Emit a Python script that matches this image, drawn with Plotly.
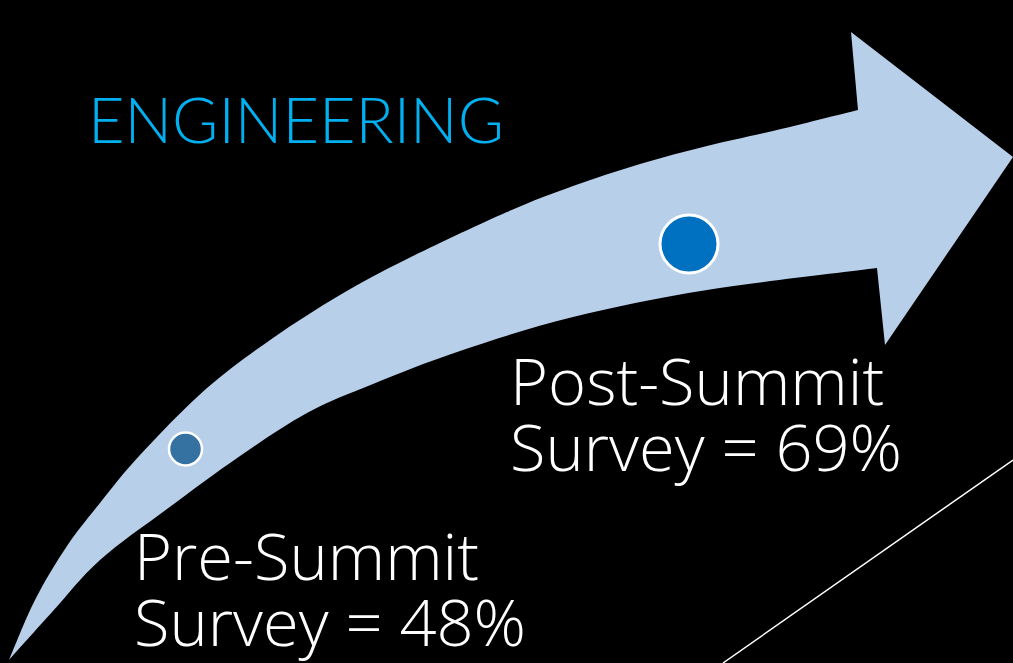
import plotly.graph_objects as go

# ---- data ----
title_text = "ENGINEERING"
survey_names = ["Pre-Summit", "Post-Summit"]
survey_values = [48, 69]

# ---- layout geometry (pixel space of a 1013x663 slide) ----
W, H = 1013, 663
upper_edge = [(9, 660), (35, 600), (67, 546), (100, 503), (140, 455), (207, 388),
              (273, 338), (340, 295), (407, 259), (507, 212), (573, 186), (640, 164),
              (707, 146), (773, 131), (858, 110)]
lower_edge = [(9, 660), (53, 611), (100, 560), (167, 509), (240, 456), (307, 413),
              (373, 384), (460, 351), (573, 317), (707, 290), (877, 268)]
head = [(851, 32), (1013, 157), (885, 345)]

dot_pos = [(185.5, 449), (689, 244)]
dot_size = [33, 58]
dot_color = ["#3572a2", "#0070c0"]
dot_line = [2.5, 3]

label_pos = [(132, 555), (508, 380)]   # left x, middle of first line
line_gap = 66

deco_line_x = [723, 1013]
deco_line_y = [663, 460]


def catmull_path(pts):
    segs = []
    n = len(pts)
    for i in range(n - 1):
        p0 = pts[i - 1] if i > 0 else pts[i]
        p1 = pts[i]
        p2 = pts[i + 1]
        p3 = pts[i + 2] if i + 2 < n else pts[i + 1]
        c1 = (p1[0] + (p2[0] - p0[0]) / 6, p1[1] + (p2[1] - p0[1]) / 6)
        c2 = (p2[0] - (p3[0] - p1[0]) / 6, p2[1] - (p3[1] - p1[1]) / 6)
        segs.append(f"C {c1[0]:.2f},{c1[1]:.2f} {c2[0]:.2f},{c2[1]:.2f} {p2[0]:.2f},{p2[1]:.2f}")
    return " ".join(segs)


path = f"M {upper_edge[0][0]},{upper_edge[0][1]} " + catmull_path(upper_edge)
for hx, hy in head:
    path += f" L {hx},{hy}"
low_rev = lower_edge[::-1]
path += f" L {low_rev[0][0]},{low_rev[0][1]} " + catmull_path(low_rev) + " Z"

fig = go.Figure()

# decorative white line
fig.add_trace(go.Scatter(x=deco_line_x, y=deco_line_y, mode="lines",
                         line=dict(color="white", width=1.5), hoverinfo="skip"))

# dots
fig.add_trace(go.Scatter(
    x=[p[0] for p in dot_pos], y=[p[1] for p in dot_pos], mode="markers",
    marker=dict(size=dot_size, color=dot_color, opacity=1,
                line=dict(color="white", width=dot_line)),
    opacity=1, hoverinfo="skip"))

fig.add_shape(type="path", path=path, xref="x", yref="y",
              fillcolor="#b8cfea", line=dict(width=0), layer="below", opacity=1)

fig.add_annotation(x=86, y=118, xref="x", yref="y", text=title_text,
                   showarrow=False, xanchor="left", yanchor="middle",
                   font=dict(family="Lato", size=63, color="#00b0f0", weight=300))

label_font = dict(family="Open Sans", size=65, color="white", weight=300)
for name, val, (lx, ly) in zip(survey_names, survey_values, label_pos):
    fig.add_annotation(x=lx, y=ly, xref="x", yref="y", text=name,
                       showarrow=False, xanchor="left", yanchor="middle",
                       font=label_font)
    fig.add_annotation(x=lx, y=ly + line_gap, xref="x", yref="y",
                       text=f"Survey = {val}%",
                       showarrow=False, xanchor="left", yanchor="middle",
                       font=label_font)

fig.update_layout(
    width=W, height=H, margin=dict(l=0, r=0, t=0, b=0),
    paper_bgcolor="black", plot_bgcolor="black", showlegend=False,
    xaxis=dict(range=[0, W], visible=False, fixedrange=True),
    yaxis=dict(range=[H, 0], visible=False, fixedrange=True),
)

fig.write_html("out.html", config={"displayModeBar": False, "staticPlot": True},
               post_script="document.body.style.margin='0';"
                           "document.body.style.background='black';"
                           "document.body.style.overflow='hidden';")
